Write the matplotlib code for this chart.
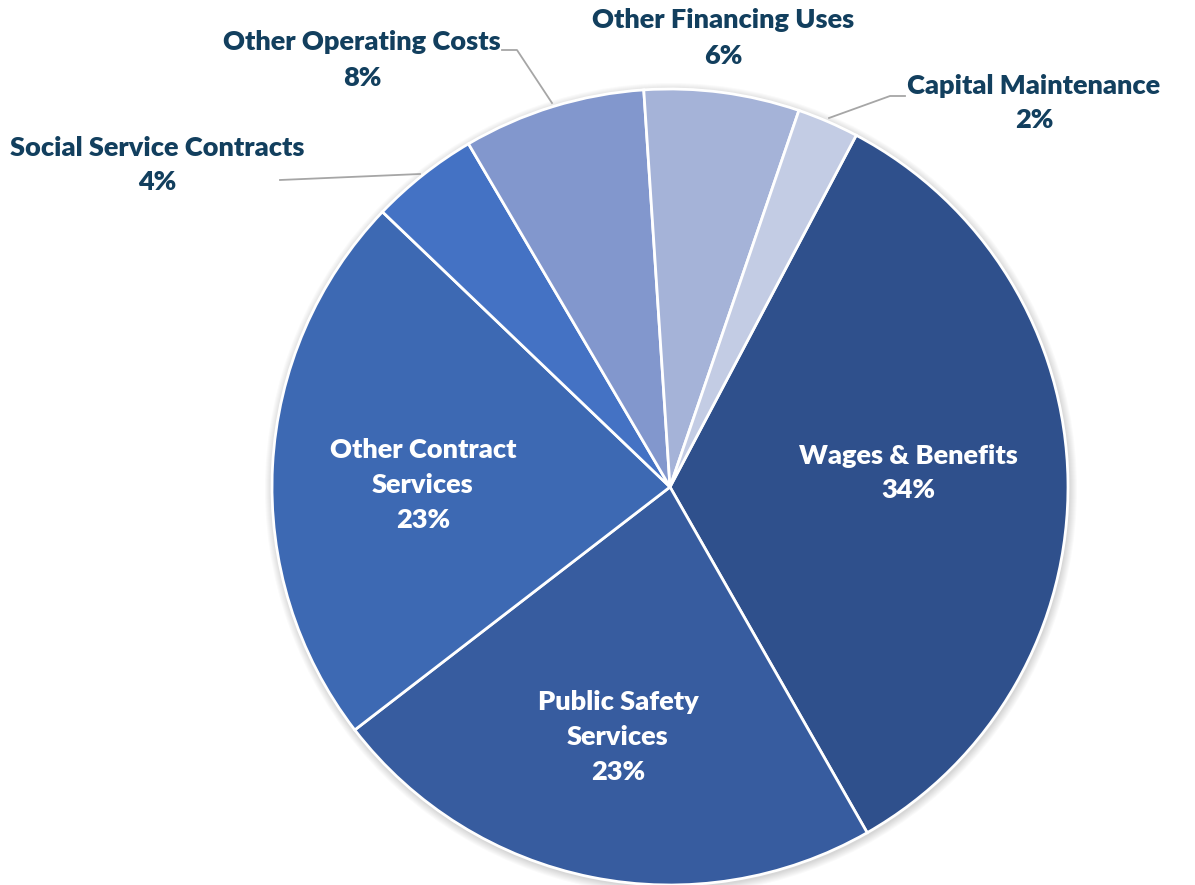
import matplotlib
matplotlib.use("Agg")
from matplotlib import pyplot as plt
from matplotlib.patches import Circle

# Data (clockwise from the top right)
categories = ['Wages & Benefits', 'Public Safety\nServices', 'Other Contract\nServices',
              'Social Service Contracts', 'Other Operating Costs', 'Other Financing Uses',
              'Capital Maintenance']
shares = [34.0, 22.8, 22.6, 4.4, 7.4, 6.3, 2.5]
pct_labels = ['34%', '23%', '23%', '4%', '8%', '6%', '2%']
colors = ['#2F508C', '#375C9F', '#3D69B3', '#4472C4', '#8297CD', '#A5B3D8', '#C3CCE4']

plt.rcParams['font.family'] = ['Lato', 'DejaVu Sans']

fig = plt.figure(figsize=(11.95, 8.85), dpi=100)
ax = fig.add_axes([0, 0, 1, 1])

cx, cy, r = 670, 398, 398

# soft shadow behind the pie
for k in range(8, 0, -1):
    ax.add_patch(Circle((cx + 1, cy - 2), r + k, color='black', alpha=0.018, lw=0, zorder=0))

wedges, _ = ax.pie(shares, colors=colors, startangle=62.1, counterclock=False,
                   center=(cx, cy), radius=r, frame=True,
                   wedgeprops=dict(edgecolor='white', linewidth=2))
for w in wedges:
    w.set_zorder(2)
ax.set_xlim(0, 1195)
ax.set_ylim(0, 885)
ax.set_aspect('equal')
ax.axis('off')

H = 885
text_col = '#123F5E'
fs = 19.5
ls = 1.55
inside = {0: (908, 473), 1: (618, 737), 2: (423, 485)}
for i, (x, y) in inside.items():
    ax.text(x, H - y, categories[i] + '\n' + pct_labels[i], color='white', fontsize=fs,
            fontweight='heavy', ha='center', va='center', linespacing=ls, zorder=3)

outside = {3: (157, 165), 4: (362, 60), 5: (723, 38), 6: (1034, 103)}
for i, (x, y) in outside.items():
    ax.text(x, H - y, categories[i] + '\n' + pct_labels[i], color=text_col, fontsize=fs,
            fontweight='heavy', ha='center', va='center', linespacing=ls, zorder=3)

# leader lines
lc = '#A6A6A6'
ax.plot([280, 420], [H - 180, H - 174], color=lc, lw=1.3, zorder=3)
ax.plot([502, 517, 552], [H - 50, H - 50, H - 103], color=lc, lw=1.3, zorder=3)
ax.plot([905, 890, 829], [H - 96, H - 96, H - 118], color=lc, lw=1.3, zorder=3)

fig.savefig('out.png', dpi=100, facecolor='white')
